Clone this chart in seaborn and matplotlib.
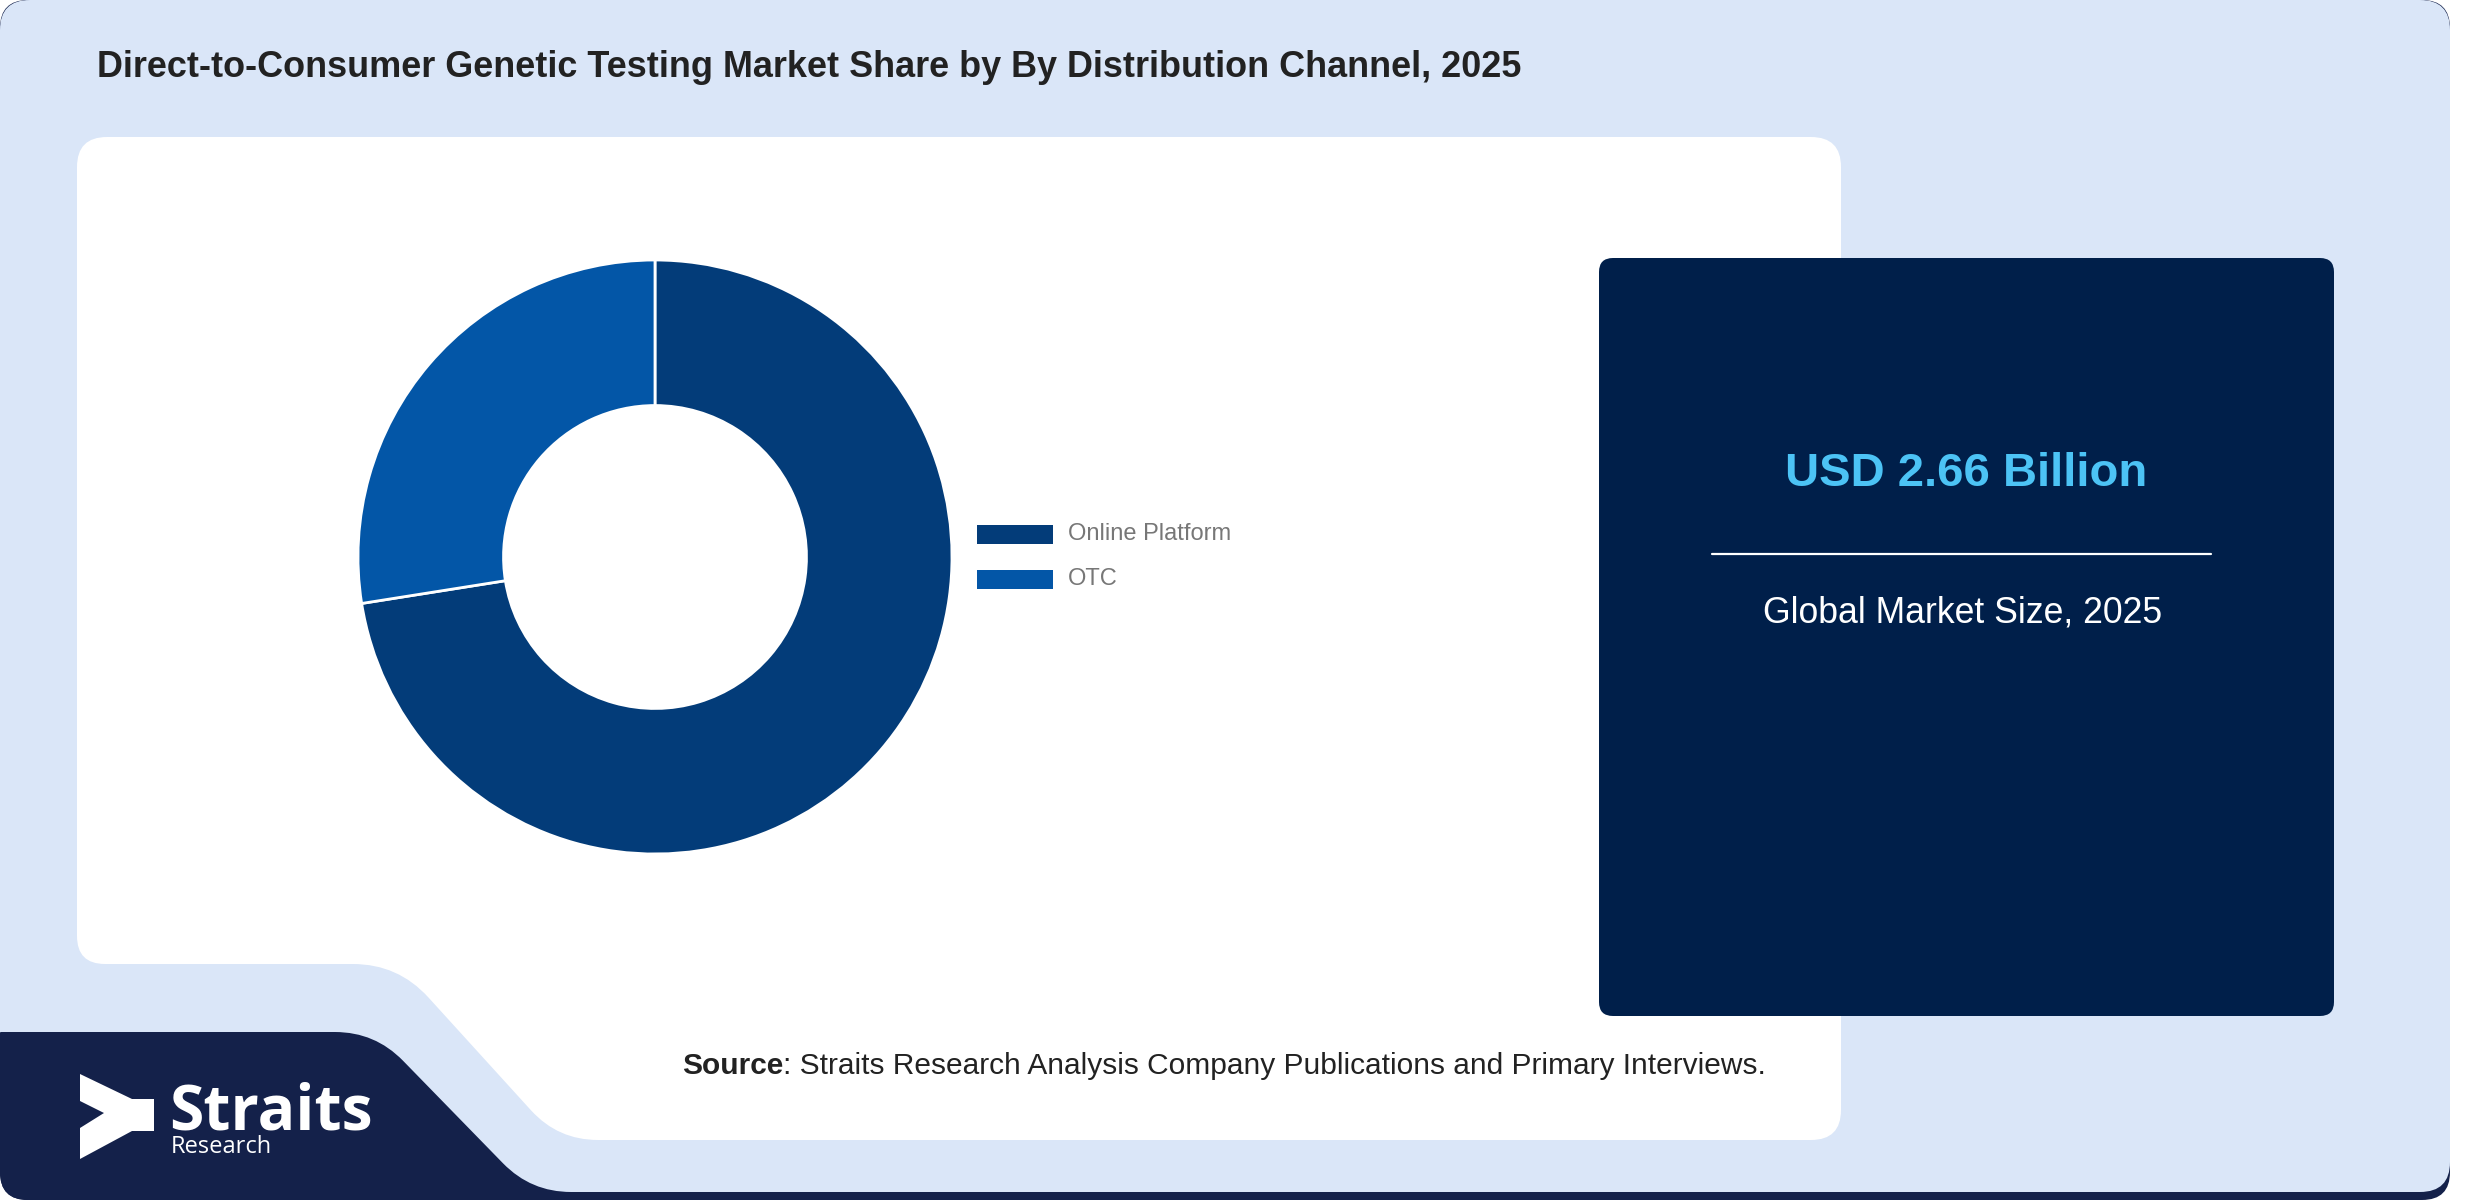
import numpy as np
import matplotlib
matplotlib.use("Agg")
import matplotlib.pyplot as plt
from matplotlib.patches import FancyBboxPatch, PathPatch, Polygon, Rectangle
from matplotlib.path import Path
import seaborn as sns

# данные
channels = ["Online Platform", "OTC"]
shares = [72.5, 27.5]
channel_colors = ["#033c79", "#0356a7"]

title = "Direct-to-Consumer Genetic Testing Market Share by By Distribution Channel, 2025"
market_value = "USD 2.66 Billion"
market_caption = "Global Market Size, 2025"
source_rest = ": Straits Research Analysis Company Publications and Primary Interviews."

sns.set_theme(style="white")
plt.rcParams["font.family"] = ["Liberation Sans", "DejaVu Sans"]

W, H = 2480, 1200
fig = plt.figure(figsize=(W / 100, H / 100), dpi=100, facecolor="white")

# фон в пиксельных координатах
bg = fig.add_axes([0, 0, 1, 1])
bg.set_xlim(0, W)
bg.set_ylim(H, 0)
bg.axis("off")


def rounded_path(points, radii):
    """Замкнутый многоугольник со скруглёнными углами (квадратичные кривые)"""
    pts = np.asarray(points, dtype=float)
    n = len(pts)
    verts, codes = [], []
    for i in range(n):
        p = pts[i]
        a = pts[i - 1]
        b = pts[(i + 1) % n]
        r = radii[i] if np.ndim(radii) else radii
        ua = (a - p) / np.linalg.norm(a - p)
        ub = (b - p) / np.linalg.norm(b - p)
        p1 = p + r * ua
        p2 = p + r * ub
        verts.append(p1)
        codes.append(Path.MOVETO if i == 0 else Path.LINETO)
        verts += [p, p2]
        codes += [Path.CURVE3, Path.CURVE3]
    verts.append(verts[0])
    codes.append(Path.CLOSEPOLY)
    return Path(verts, codes)


base = FancyBboxPatch((0, 0), 2450, 1200, boxstyle="round,pad=0,rounding_size=28",
                      fc="#14214a", ec="none", zorder=0)
bg.add_patch(base)
bg.add_patch(FancyBboxPatch((0, 0), 2450, 1192, boxstyle="round,pad=0,rounding_size=30",
                            fc="#dae6f8", ec="none", zorder=1))

# тёмная плашка с логотипом
logo_shape = PathPatch(rounded_path([(0, 1032), (375, 1032), (531, 1192), (700, 1192),
                                     (700, 1200), (0, 1200)],
                                    [1, 40, 40, 1, 1, 1]),
                       fc="#14214a", ec="none", zorder=2)
bg.add_patch(logo_shape)
logo_shape.set_clip_path(base)

# белая панель
panel = PathPatch(rounded_path([(77, 137), (1841, 137), (1841, 1140), (558, 1140),
                                (398, 964), (77, 964)],
                               [30, 30, 30, 40, 45, 28]),
                  fc="white", ec="none", zorder=2)
bg.add_patch(panel)

# правый блок с размером рынка
bg.add_patch(FancyBboxPatch((1599, 258), 735, 758, boxstyle="round,pad=0,rounding_size=14",
                            fc="#001f4a", ec="none", zorder=3))
bg.text(1966, 474, market_value, color="#4cc3f5", fontsize=34, fontweight="bold",
        ha="center", va="center", zorder=4)
bg.plot([1712, 2211], [554, 554], color="white", lw=1.6, zorder=4)
bg.text(1963, 613, market_caption, color="white", fontsize=25.7,
        ha="center", va="center", zorder=4)

# заголовок
bg.text(97, 77, title, color="#222222", fontsize=25.9, fontweight="bold",
        ha="left", va="baseline", zorder=4)

# источник
src = bg.text(682, 1074, "Source", color="#222222", fontsize=21.5, fontweight="bold",
              ha="left", va="baseline", zorder=4)
bg.annotate(source_rest, xy=(1, 0), xycoords=src, color="#222222", fontsize=21.5,
            ha="left", va="bottom", zorder=4)

# логотип
bg.add_patch(Polygon([(80, 1074), (132, 1099), (154, 1099), (154, 1131), (132, 1131),
                      (80, 1159), (80, 1128), (104, 1113), (80, 1101)],
                     closed=True, fc="white", ec="none", zorder=4))
bg.text(169, 1129, "Straits", color="white", fontsize=45, fontweight="bold",
        family=["Open Sans", "DejaVu Sans"], ha="left", va="baseline", zorder=4)
bg.text(171, 1153, "Research", color="white", fontsize=17,
        family=["Open Sans", "DejaVu Sans"], ha="left", va="baseline", zorder=4)

# легенда
for i, (lab, col) in enumerate(zip(channels, channel_colors)):
    y0 = 525 + i * 44.5
    bg.add_patch(Rectangle((977, y0), 76, 19, fc=col, ec="none", zorder=4))
    bg.text(1068, y0 + 9.5, lab, color="#777777", fontsize=17,
            ha="left", va="center", zorder=4)

# кольцевая диаграмма
cx, cy, R = 655, 557, 297
ax = fig.add_axes([(cx - R) / W, (H - cy - R) / H, 2 * R / W, 2 * R / H])
ax.pie(shares, colors=channel_colors, startangle=90, counterclock=False, radius=1,
       wedgeprops=dict(width=0.49, edgecolor="white", linewidth=2))
ax.set_xlim(-1, 1)
ax.set_ylim(-1, 1)
ax.set_aspect("equal")
ax.axis("off")

fig.savefig("out.png", dpi=100, facecolor="white")
